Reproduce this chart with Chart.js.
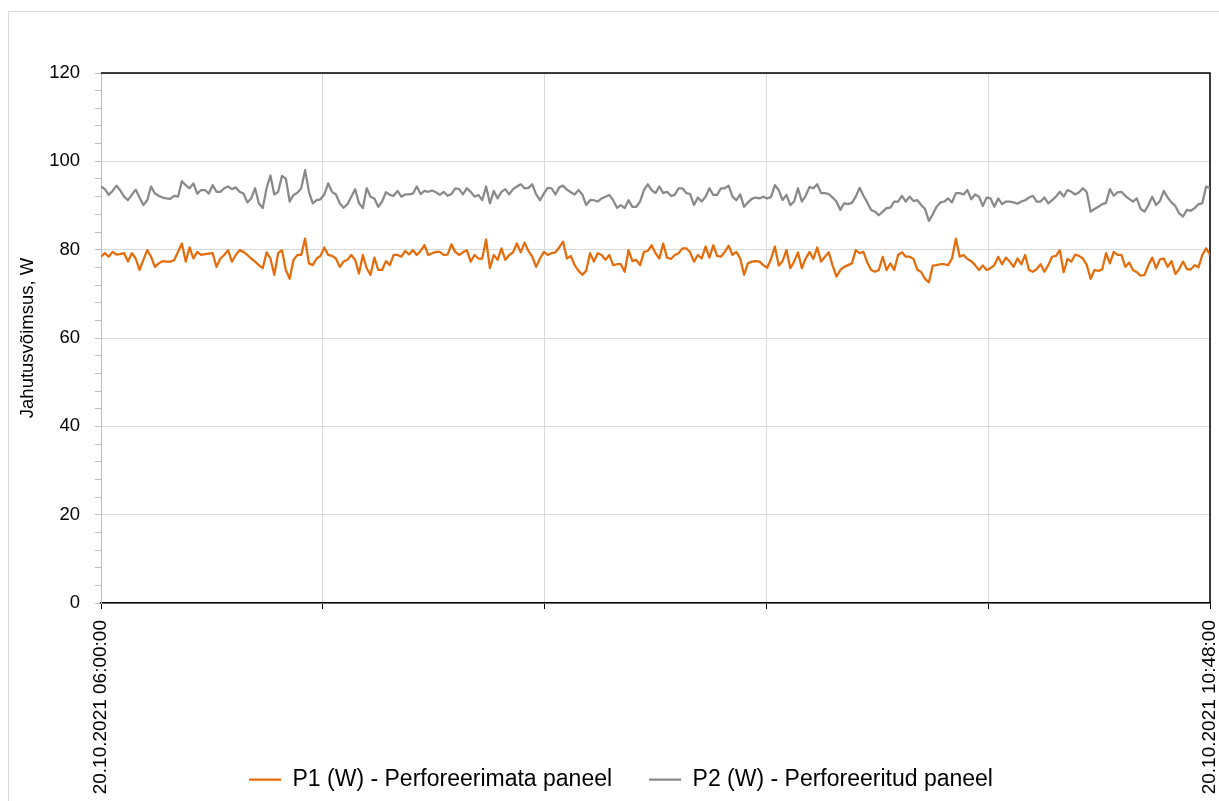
<!DOCTYPE html>
<html><head><meta charset="utf-8">
<script src="https://cdn.jsdelivr.net/npm/chart.js@4.4.1/dist/chart.umd.min.js"></script>
<style>html,body{margin:0;padding:0;background:#fff;overflow:hidden;}</style>
</head><body>
<canvas id="c" width="1219" height="801"></canvas>
<script>
const seriesNames = ['P1 (W) - Perforeerimata paneel', 'P2 (W) - Perforeeritud paneel'];
const yTickValues = [0, 20, 40, 60, 80, 100, 120];
const xTickMinutes = [0, 57.6, 115.2, 172.8, 230.4, 288];
const xTickLabels = ['20.10.2021 06:00:00', '', '', '', '', '20.10.2021 10:48:00'];
const yTitle = 'Jahutusvõimsus, W';

const P1 = [78.4, 79.2, 78.4, 79.5, 78.9, 79.0, 79.2, 77.3, 79.2, 78.0,
 75.4, 77.7, 79.9, 78.4, 76.1, 76.9, 77.4, 77.3, 77.3, 77.6,
 79.5, 81.4, 77.3, 80.5, 78.0, 79.5, 78.8, 79.0, 79.1, 79.2,
 76.1, 78.0, 78.8, 79.9, 77.3, 78.8, 79.9, 79.5, 78.8, 78.0,
 77.3, 76.5, 75.8, 79.4, 78.0, 74.3, 79.2, 79.9, 75.4, 73.4,
 77.7, 78.8, 78.8, 82.5, 76.9, 76.5, 78.0, 78.6, 80.5, 78.8,
 78.6, 78.0, 76.1, 77.3, 77.7, 78.8, 77.7, 74.6, 78.8, 75.8,
 74.3, 78.2, 75.4, 75.4, 77.4, 76.5, 78.8, 78.8, 78.4, 79.7,
 78.9, 79.9, 78.8, 79.7, 81.0, 78.8, 79.2, 79.5, 79.5, 78.8,
 78.9, 81.2, 79.5, 78.8, 79.4, 79.9, 77.3, 78.8, 78.0, 78.0,
 82.3, 75.8, 78.8, 77.7, 80.3, 77.7, 78.8, 79.4, 81.4, 79.4,
 81.6, 79.7, 78.4, 76.1, 78.0, 79.5, 78.8, 79.2, 79.4, 80.5,
 81.8, 78.0, 78.6, 76.5, 75.2, 74.3, 75.2, 79.2, 77.3, 79.2,
 78.8, 77.7, 78.8, 76.5, 76.7, 76.7, 75.0, 79.9, 77.4, 77.7,
 76.5, 79.5, 79.7, 81.0, 79.2, 78.0, 81.4, 78.2, 77.9, 78.8,
 79.2, 80.3, 80.3, 79.4, 77.3, 78.8, 78.0, 80.7, 78.2, 81.0,
 78.6, 78.4, 79.5, 80.9, 78.8, 79.5, 78.0, 74.3, 76.9, 77.3,
 77.4, 77.3, 76.5, 75.9, 77.9, 80.7, 76.4, 77.4, 79.9, 75.8,
 77.3, 79.4, 75.8, 78.0, 79.5, 77.9, 80.5, 77.3, 78.4, 79.4,
 76.4, 73.9, 75.4, 76.1, 76.5, 76.9, 79.9, 79.2, 79.5, 77.1,
 75.4, 75.0, 75.4, 78.4, 75.4, 76.9, 75.4, 78.8, 79.4, 78.4,
 78.4, 77.9, 75.5, 74.9, 73.4, 72.6, 76.4, 76.5, 76.7, 76.7,
 76.5, 78.0, 82.5, 78.4, 78.8, 77.9, 77.4, 76.5, 75.4, 76.4,
 75.4, 75.8, 76.5, 78.4, 76.7, 78.2, 77.3, 76.1, 78.0, 76.7,
 78.8, 75.4, 75.0, 75.6, 76.7, 75.0, 76.5, 78.4, 78.6, 79.9,
 74.9, 77.9, 77.3, 78.9, 78.6, 78.0, 76.5, 73.4, 75.4, 75.2,
 75.5, 79.2, 76.9, 79.5, 78.8, 78.8, 76.1, 77.1, 75.4, 74.9,
 74.1, 74.3, 76.5, 78.2, 75.8, 77.8, 78.0, 76.1, 77.4, 74.5,
 75.6, 77.3, 75.6, 75.5, 76.5, 76.0, 78.8, 80.3, 78.8];

const P2 = [94.3, 93.7, 92.4, 93.3, 94.5, 93.4, 92.0, 91.2, 92.4, 93.6,
 91.8, 90.1, 91.2, 94.3, 92.7, 92.2, 91.8, 91.6, 91.5, 92.2,
 92.0, 95.5, 94.6, 93.9, 95.0, 92.7, 93.5, 93.5, 92.7, 94.6,
 93.1, 93.1, 93.9, 94.3, 93.7, 94.1, 93.1, 92.7, 90.7, 91.6,
 93.9, 90.5, 89.4, 93.9, 96.8, 92.5, 93.1, 96.7, 96.1, 90.9,
 92.4, 92.9, 93.9, 98.0, 93.1, 90.5, 91.2, 91.4, 92.5, 95.0,
 93.1, 92.5, 90.5, 89.5, 90.3, 92.0, 93.7, 90.5, 89.4, 93.9,
 92.0, 91.6, 89.7, 90.9, 93.0, 92.4, 92.2, 93.3, 92.0, 92.5,
 92.5, 92.7, 94.3, 92.6, 93.3, 93.1, 93.4, 93.0, 92.4, 93.1,
 92.2, 92.6, 93.9, 93.7, 92.5, 93.9, 93.1, 92.0, 92.4, 91.2,
 94.3, 90.5, 93.3, 91.6, 93.1, 93.7, 92.5, 93.7, 94.3, 94.8,
 93.9, 94.0, 94.8, 92.5, 91.2, 92.7, 94.0, 93.9, 92.5, 94.1,
 94.5, 93.6, 93.0, 92.5, 93.5, 92.5, 90.1, 91.2, 91.2, 90.9,
 91.6, 92.0, 92.4, 91.2, 89.5, 90.1, 89.4, 91.2, 89.7, 89.7,
 90.9, 93.5, 94.8, 93.5, 92.8, 94.3, 92.8, 93.1, 92.2, 92.4,
 93.9, 93.9, 92.8, 92.6, 90.1, 91.8, 90.9, 92.0, 93.9, 92.4,
 92.4, 93.9, 93.9, 94.5, 92.0, 91.2, 92.5, 89.7, 90.7, 91.5,
 91.8, 91.6, 92.0, 91.6, 91.9, 94.6, 93.5, 91.2, 92.4, 90.1,
 90.9, 93.9, 90.9, 92.2, 94.2, 93.9, 94.8, 92.8, 92.8, 92.6,
 91.8, 90.9, 89.0, 90.5, 90.3, 90.6, 92.0, 94.0, 92.2, 90.7,
 89.0, 88.6, 87.8, 88.6, 89.4, 89.5, 90.9, 90.9, 92.2, 90.9,
 92.0, 91.0, 91.2, 90.1, 89.2, 86.5, 88.0, 89.7, 90.7, 90.9,
 91.6, 90.7, 92.8, 92.8, 92.5, 93.5, 91.4, 92.5, 92.0, 89.9,
 91.8, 91.6, 89.7, 91.6, 90.3, 90.9, 90.9, 90.7, 90.4, 90.9,
 91.2, 91.8, 92.2, 90.9, 90.9, 91.8, 90.5, 91.2, 92.0, 93.1,
 92.0, 93.5, 93.1, 92.5, 93.0, 93.9, 93.0, 88.6, 89.2, 89.7,
 90.3, 90.6, 93.7, 92.2, 93.0, 93.1, 92.2, 91.5, 90.9, 91.6,
 89.2, 88.6, 90.1, 92.0, 90.1, 91.0, 93.3, 91.8, 90.7, 89.9,
 88.2, 87.5, 89.0, 88.8, 89.4, 90.3, 90.5, 94.3, 93.9];

// one sample per minute from 06:00:00
const minutes = P1.map((_, i) => i);

const FONT = "'Liberation Sans', Arial, sans-serif";

const framePlugin = {
  id: 'frame',
  beforeDraw(chart) {
    const c = chart.ctx;
    c.save();
    c.fillStyle = '#ffffff';
    c.fillRect(0, 0, chart.width, chart.height);
    c.strokeStyle = '#d9d9d9';
    c.lineWidth = 1;
    c.strokeRect(8.5, 11.5, 1400, 1000);
    c.restore();
  },
  beforeDatasetsDraw(chart) {
    const c = chart.ctx;
    const a = chart.chartArea;
    c.save();
    c.strokeStyle = '#000000';
    c.lineWidth = 1.5;
    c.beginPath();
    c.moveTo(a.left, a.top);
    c.lineTo(a.right, a.top);
    c.lineTo(a.right, a.bottom);
    c.stroke();
    c.restore();
  }
};

new Chart(document.getElementById('c'), {
  type: 'line',
  data: {
    labels: minutes,
    datasets: [
      { label: seriesNames[0], data: P1, borderColor: '#E46C0A', backgroundColor: '#E46C0A',
        borderWidth: 2.25, borderJoinStyle: 'round', pointRadius: 0, pointStyle: 'line', tension: 0, fill: false },
      { label: seriesNames[1], data: P2, borderColor: '#898989', backgroundColor: '#898989',
        borderWidth: 2.25, borderJoinStyle: 'round', pointRadius: 0, pointStyle: 'line', tension: 0, fill: false }
    ]
  },
  options: {
    responsive: false,
    animation: false,
    devicePixelRatio: 1,
    layout: { padding: { left: 23, top: 73, right: 0, bottom: 0 } },
    plugins: {
      legend: {
        position: 'bottom',
        labels: {
          usePointStyle: true, pointStyleWidth: 32, padding: 37,
          color: '#000', font: { size: 23, family: FONT }
        }
      },
      tooltip: { enabled: false }
    },
    scales: {
      x: {
        type: 'linear', min: 0, max: 288,
        afterBuildTicks: (s) => { s.ticks = xTickMinutes.map(v => ({ value: v })); },
        afterFit: (s) => {
          s.height = 128; s.paddingLeft = 0; s.paddingRight = 9;
          s._computeLabelArea = () => undefined;
        },
        ticks: {
          autoSkip: false, maxRotation: 90, minRotation: 90, padding: 11,
          color: '#000', font: { size: 19, family: FONT },
          callback: (v, i) => xTickLabels[i]
        },
        grid: { color: '#d9d9d9', tickColor: '#000', tickLength: 6, lineWidth: 1 },
        border: { color: '#000', width: 1.5 }
      },
      y: {
        min: 0, max: 120,
        afterFit: (s) => { s.width = 78; },
        ticks: {
          stepSize: 4, autoSkip: false, padding: 15,
          color: '#000', font: { size: 18.5, family: FONT },
          callback: (v) => yTickValues.includes(v) ? String(v) : ''
        },
        grid: {
          color: (ctx) => (ctx.tick && yTickValues.includes(ctx.tick.value)) ? '#d9d9d9' : 'rgba(0,0,0,0)',
          tickColor: '#bfbfbf', tickLength: 6, lineWidth: 1
        },
        border: { color: '#bfbfbf', width: 1 },
        title: {
          display: true, text: yTitle, color: '#000',
          font: { size: 18.5, family: FONT }, padding: { top: -6, bottom: 0 }
        }
      }
    }
  },
  plugins: [framePlugin]
});
</script>
</body></html>
